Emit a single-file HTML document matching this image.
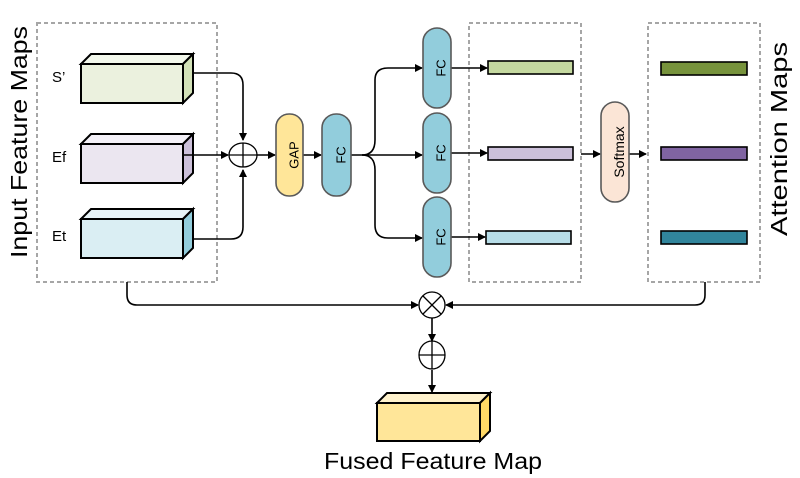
<!DOCTYPE html>
<html><head><style>body{margin:0;background:#fff}svg{display:block}</style></head><body>
<svg width="800" height="478" viewBox="0 0 800 478" xmlns="http://www.w3.org/2000/svg" font-family="Liberation Sans, sans-serif">
<defs><marker id="a" markerWidth="8" markerHeight="8" refX="7" refY="4" orient="auto" markerUnits="userSpaceOnUse"><path d="M0,0 L8,4 L0,8z" fill="#000"/></marker></defs>
<g fill="none" stroke="#a6a6a6" stroke-width="2" stroke-dasharray="4,3">
<rect x="37" y="23" width="180" height="259"/>
<rect x="469" y="23" width="112" height="259"/>
<rect x="648" y="23" width="112" height="259"/>
</g>
<g stroke="#000" stroke-width="2">
<path d="M81,64 L91,54 L193,54 L183,64z" fill="#f3f8ec"/><path d="M183,64 L193,54 L193,93 L183,103z" fill="#d3e2b8"/><rect x="81" y="64" width="102" height="39" fill="#ebf1de"/>
<path d="M81,144 L91,134 L193,134 L183,144z" fill="#f4f1f8"/><path d="M183,144 L193,134 L193,173 L183,183z" fill="#ccc0da"/><rect x="81" y="144" width="102" height="39" fill="#ebe6f0"/>
<path d="M81,219 L91,209 L193,209 L183,219z" fill="#e8f4f8"/><path d="M183,219 L193,209 L193,248 L183,258z" fill="#92cddc"/><rect x="81" y="219" width="102" height="39" fill="#daeef3"/>
<path d="M377,403 L387,393 L490,393 L480,403z" fill="#fff2cc"/><path d="M480,403 L490,393 L490,431 L480,441z" fill="#ffd966"/><rect x="377" y="403" width="103" height="38" fill="#ffe699"/>
</g>
<g fill="none" stroke="#000" stroke-width="1.6">
<path d="M193,73 H231 Q243,73 243,85 V140" marker-end="url(#a)"/>
<path d="M193,239 H231 Q243,239 243,227 V170" marker-end="url(#a)"/>
<path d="M183,155 H228" marker-end="url(#a)"/>
<path d="M256,155 H275" marker-end="url(#a)"/>
<path d="M303,155 H321" marker-end="url(#a)"/>
<path d="M351,155 H422" marker-end="url(#a)"/>
<path d="M362,155 Q375,155 375,140 V80 Q375,68 388,68 H422" marker-end="url(#a)"/>
<path d="M362,155 Q375,155 375,170 V225 Q375,238 388,238 H422" marker-end="url(#a)"/>
<path d="M451,68 H487" marker-end="url(#a)"/>
<path d="M451,153 H487" marker-end="url(#a)"/>
<path d="M451,237 H485" marker-end="url(#a)"/>
<path d="M581,154 H600" marker-end="url(#a)"/>
<path d="M629,154 H646" marker-end="url(#a)"/>
<path d="M127,282 V295 Q127,305 137,305 H418" marker-end="url(#a)"/>
<path d="M705,282 V295 Q705,305 695,305 H446" marker-end="url(#a)"/>
<path d="M432,318 V341" marker-end="url(#a)"/>
<path d="M432,370 V392" marker-end="url(#a)"/>
</g>
<g stroke="#000" stroke-width="1.3" fill="#fff">
<ellipse cx="243" cy="155" rx="14" ry="12"/><path d="M229,155 H257 M243,143 V167"/>
<circle cx="432" cy="305" r="13"/><path d="M423,296 L441,314 M441,296 L423,314"/>
<ellipse cx="432" cy="355" rx="13" ry="14"/><path d="M419,355 H445 M432,341 V369"/>
</g>
<g stroke="#595959" stroke-width="1.6">
<rect x="276" y="114" width="27" height="82" rx="13" fill="#ffe699"/>
<rect x="322" y="114" width="29" height="82" rx="14" fill="#92cddc"/>
<rect x="423" y="28" width="28" height="80" rx="14" fill="#92cddc"/>
<rect x="423" y="113" width="28" height="80" rx="14" fill="#92cddc"/>
<rect x="423" y="197" width="28" height="80" rx="14" fill="#92cddc"/>
<rect x="601" y="102" width="28" height="100" rx="14" fill="#fbe5d6"/>
</g>
<g stroke="#000" stroke-width="1.6">
<rect x="488" y="61" width="85" height="13" fill="#c5d9a0"/>
<rect x="488" y="147" width="85" height="13" fill="#ccc0da"/>
<rect x="486" y="231" width="85" height="13" fill="#b7dde8"/>
<rect x="661" y="62" width="86" height="13" fill="#77933c"/>
<rect x="661" y="147" width="86" height="13" fill="#8064a2"/>
<rect x="661" y="231" width="86" height="13" fill="#31859c"/>
</g>
<g font-size="13" fill="#000" text-anchor="middle">
<text transform="translate(294,155) rotate(-90)" dy="4.5">GAP</text>
<text transform="translate(341,155) rotate(-90)" dy="4.5">FC</text>
<text transform="translate(441,68) rotate(-90)" dy="4.5">FC</text>
<text transform="translate(441,153) rotate(-90)" dy="4.5">FC</text>
<text transform="translate(441,237) rotate(-90)" dy="4.5">FC</text>
<text transform="translate(619,152) rotate(-90)" dy="5" font-size="14">Softmax</text>
</g>
<g font-size="15" fill="#000">
<text x="52" y="82">S’</text><text x="52" y="162">Ef</text><text x="52" y="241">Et</text>
</g>
<g font-size="23" fill="#000">
<text transform="translate(27,258) rotate(-90)" textLength="232" lengthAdjust="spacingAndGlyphs">Input Feature Maps</text>
<text transform="translate(787,236) rotate(-90)" textLength="194" lengthAdjust="spacingAndGlyphs">Attention Maps</text>
<text x="324" y="469" textLength="218" lengthAdjust="spacingAndGlyphs">Fused Feature Map</text>
</g>
</svg>
</body></html>
